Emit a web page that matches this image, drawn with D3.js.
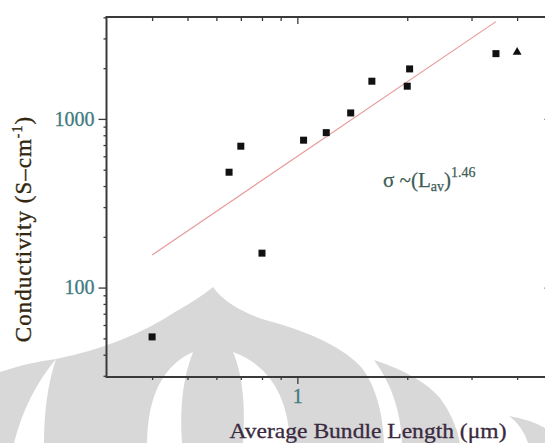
<!DOCTYPE html>
<html><head><meta charset="utf-8">
<script src="https://cdn.jsdelivr.net/npm/d3@7"></script>
<style>html,body{margin:0;padding:0;background:#fff;overflow:hidden} svg{display:block}</style>
</head><body>
<script>
// ---- data ----
const bundleLength   = [0.40, 0.65, 0.70, 0.80, 1.04, 1.20, 1.40, 1.60, 2.00, 2.03, 3.50];
const conductivity   = [51, 483, 689, 160, 748, 829, 1085, 1673, 1563, 1979, 2438];
const triLength      = [4.0];
const triConductivity= [2486];
const fitLength      = [0.40, 3.50];
const fitConductivity= [156, 3774];
const xMajorTicks = [1];
const xMinorTicks = [0.4, 0.5, 0.6, 0.7, 0.8, 0.9, 2, 3, 4];
const yMajorTicks = [100, 1000];
const yMinorTicks = [30, 40, 50, 60, 70, 80, 90, 200, 300, 400, 500, 600, 700, 800, 900, 2000, 3000, 4000];
const xTickLabels = ["1"];
const yTickLabels = ["100", "1000"];
const xTitle = "Average Bundle Length (μm)";
const yTitleMain = "Conductivity (S–cm";
const yTitleSup = "-1";
const xDomain = [0.3, 5];
const yDomain = [29.5, 4020];

const W = 545, H = 443;
const m = {left: 106.5, top: 17, right: 552.5, bottom: 377};
const svg = d3.select("body").append("svg").attr("width", W).attr("height", H);

// ---- watermark (background decoration) ----
const wm = svg.append("g").attr("fill", "#d8d8d8");
const wmPaths = [
  "M0,372 Q30,362 56,359 Q26,395 14,443 L0,443 Z",
  "M56,359 Q125,345 175,312 Q200,298 213,287 Q226,306 262,319 Q335,338 362,368 Q382,395 384,443 L44,443 Q44,395 56,359 Z",
  "M374,360 Q420,375 440,398 Q455,418 460,443 L402,443 Q400,395 374,360 Z",
  "M509,416 Q532,420 545,428 L545,443 L528,443 Q522,425 509,416 Z"
];
wmPaths.forEach(p => wm.append("path").attr("d", p));
const wmW = svg.append("g").attr("fill", "#ffffff");
["M193,352 Q148,372 147,443 L182,443 Q178,390 193,352 Z",
 "M233,352 Q287,372 290,443 L243,443 Q247,385 233,352 Z"].forEach(p => wmW.append("path").attr("d", p));

// ---- scales ----
const x = d3.scaleLog().domain(xDomain).range([m.left, m.right]);
const y = d3.scaleLog().domain(yDomain).range([m.bottom, m.top]);

const axisColor = "#3a3a3a";
const tickColor = "#3f7a80";
const font = "'Liberation Serif', 'Times New Roman', serif";

function styleAxis(g) {
  g.select(".domain").remove();
  g.selectAll(".tick line").attr("stroke", axisColor).attr("stroke-width", 1.3);
}

// bottom axis (outward ticks)
svg.append("g").attr("transform", `translate(0,${m.bottom})`)
  .call(d3.axisBottom(x).tickValues(xMinorTicks).tickSize(3).tickFormat(""))
  .call(styleAxis);
const xb = svg.append("g").attr("transform", `translate(0,${m.bottom})`)
  .call(d3.axisBottom(x).tickValues(xMajorTicks).tickSize(7).tickPadding(5)
    .tickFormat((d, i) => xTickLabels[i]))
  .call(styleAxis);
// top axis (inward ticks)
svg.append("g").attr("transform", `translate(0,${m.top})`)
  .call(d3.axisBottom(x).tickValues(xMinorTicks).tickSize(4).tickFormat(""))
  .call(styleAxis);
svg.append("g").attr("transform", `translate(0,${m.top})`)
  .call(d3.axisBottom(x).tickValues(xMajorTicks).tickSize(7).tickFormat(""))
  .call(styleAxis);
// left axis (outward ticks)
svg.append("g").attr("transform", `translate(${m.left},0)`)
  .call(d3.axisLeft(y).tickValues(yMinorTicks).tickSize(3).tickFormat(""))
  .call(styleAxis);
const yl = svg.append("g").attr("transform", `translate(${m.left},0)`)
  .call(d3.axisLeft(y).tickValues(yMajorTicks).tickSize(8).tickPadding(4)
    .tickFormat((d, i) => yTickLabels[i]))
  .call(styleAxis);
// right axis (inward ticks)
svg.append("g").attr("transform", `translate(${m.right},0)`)
  .call(d3.axisLeft(y).tickValues(yMinorTicks).tickSize(4).tickFormat(""))
  .call(styleAxis);
svg.append("g").attr("transform", `translate(${m.right},0)`)
  .call(d3.axisLeft(y).tickValues(yMajorTicks).tickSize(8).tickFormat(""))
  .call(styleAxis);

[xb, yl].forEach(g => g.selectAll(".tick text")
  .attr("font-family", font).attr("font-size", 20).attr("fill", tickColor)
  .attr("stroke", tickColor).attr("stroke-width", 0.3));

// frame
svg.append("rect").attr("x", m.left).attr("y", m.top)
  .attr("width", m.right - m.left).attr("height", m.bottom - m.top)
  .attr("fill", "none").attr("stroke", axisColor).attr("stroke-width", 2);

// fit line
svg.append("path")
  .datum(fitLength.map((d, i) => [d, fitConductivity[i]]))
  .attr("d", d3.line().x(d => x(d[0])).y(d => y(d[1])))
  .attr("fill", "none").attr("stroke", "#e79a9a").attr("stroke-width", 1.2);

// square markers
const sq = 7;
svg.append("g").selectAll("rect")
  .data(bundleLength.map((d, i) => [d, conductivity[i]]))
  .join("rect")
  .attr("x", d => x(d[0]) - sq / 2).attr("y", d => y(d[1]) - sq / 2)
  .attr("width", sq).attr("height", sq).attr("fill", "#111");

// triangle marker
svg.append("g").selectAll("path")
  .data(triLength.map((d, i) => [d, triConductivity[i]]))
  .join("path")
  .attr("transform", d => `translate(${x(d[0])},${y(d[1])})`)
  .attr("d", d3.symbol(d3.symbolTriangle, 34)())
  .attr("fill", "#111");

// axis titles
svg.append("text")
  .attr("x", 368).attr("y", 438)
  .attr("text-anchor", "middle")
  .attr("font-family", font).attr("font-size", 21)
  .attr("fill", "#3a2a40").attr("stroke", "#3a2a40").attr("stroke-width", 0.3)
  .attr("textLength", 277).attr("lengthAdjust", "spacingAndGlyphs")
  .text(xTitle);

const titleColor = "#33270f";
const yt = svg.append("text")
  .attr("transform", "translate(31,229) rotate(-90)")
  .attr("text-anchor", "middle")
  .attr("font-family", font).attr("font-size", 23)
  .attr("letter-spacing", 1.0)
  .attr("fill", titleColor).attr("stroke", titleColor).attr("stroke-width", 0.35);
yt.append("tspan").text(yTitleMain);
yt.append("tspan").attr("font-size", 14).attr("dy", -9).text(yTitleSup);
yt.append("tspan").attr("dy", 9).text(")");

// annotation
const anColor = "#3e5d55";
const an = svg.append("text")
  .attr("x", 383).attr("y", 187)
  .attr("font-family", font).attr("font-size", 21)
  .attr("fill", anColor).attr("stroke", anColor).attr("stroke-width", 0.25);
an.append("tspan").text("σ ~(L");
an.append("tspan").attr("font-size", 14).attr("dy", 4).text("av");
an.append("tspan").attr("dy", -4).text(")");
an.append("tspan").attr("font-size", 14).attr("dy", -10).text("1.46");
</script>
</body></html>
